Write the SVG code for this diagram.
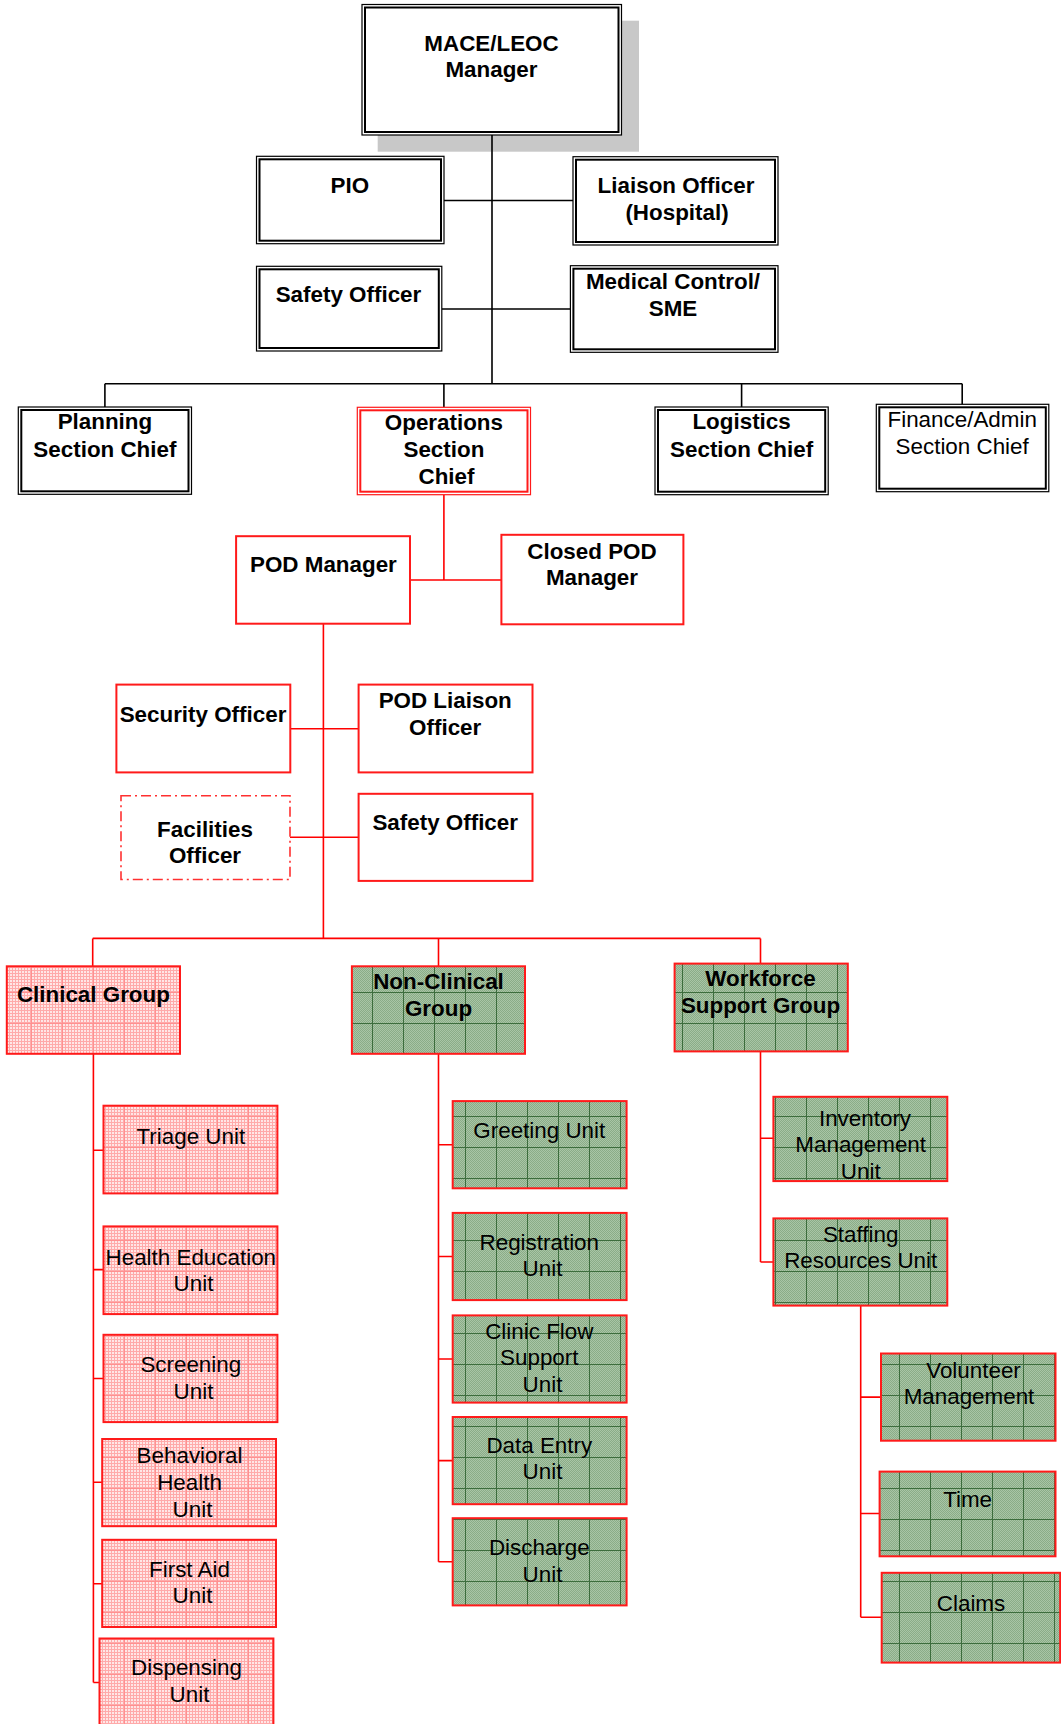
<svg xmlns="http://www.w3.org/2000/svg" width="1061" height="1724" viewBox="0 0 1061 1724">
<defs>
<style>
.t{font-family:"Liberation Sans",Arial,Helvetica,sans-serif;font-size:22.4px;text-anchor:middle;fill:#000}
.b{font-weight:bold}
.ko{fill:#fff;stroke:#000;stroke-width:1.2}
.ki{fill:none;stroke:#000;stroke-width:2}
.ro{fill:#fff;stroke:#ff1a1a;stroke-width:1.2}
.ri{fill:none;stroke:#ff1a1a;stroke-width:2}
.rb{fill:#fff;stroke:#ff1a1a;stroke-width:2}
.pk{fill:url(#pink);stroke:#ff1a1a;stroke-width:2}
.gr{fill:url(#green);stroke:#ff1a1a;stroke-width:2}
.dd{fill:#fff;stroke:#ff3030;stroke-width:1.6;stroke-dasharray:10 4 2 4}
.kc{fill:none;stroke:#000;stroke-width:1.6}
.rc{fill:none;stroke:#ff0000;stroke-width:1.6}
</style>
<pattern id="pinkFine" width="3" height="3" patternUnits="userSpaceOnUse">
<rect width="3" height="3" fill="#ffe6e6"/>
<rect width="3" height="1" fill="#ffaaaa"/>
<rect width="1" height="3" fill="#ffaaaa"/>
</pattern>
<pattern id="pink" width="31" height="31" patternUnits="userSpaceOnUse">
<rect width="31" height="31" fill="url(#pinkFine)"/>
<path d="M0 0.5H31M0.5 0V31" stroke="#ff9090" stroke-width="1"/>
</pattern>
<pattern id="greenFine" width="2" height="2" patternUnits="userSpaceOnUse">
<rect width="2" height="2" fill="#a9c5a6"/>
<rect width="1" height="1" fill="#8aac87"/>
<rect x="1" y="1" width="1" height="1" fill="#8aac87"/>
</pattern>
<pattern id="green" width="31" height="31" patternUnits="userSpaceOnUse">
<rect width="31" height="31" fill="url(#greenFine)"/>
<path d="M0 0.5H31M0.5 0V31" stroke="#3d6d3d" stroke-width="1"/>
</pattern>
</defs>
<rect width="1061" height="1724" fill="#fff"/>

<g id="mace-shadow">
<rect x="377.7" y="20.7" width="261.3" height="131" fill="#c8c8c8"/>
</g>

<g id="connectors">
<path class="kc" d="M492 135V383.7M444 200.5H573M441.8 309H570.4M104.9 383.7H962.2M104.9 383.7V407M443.9 383.7V407.3M741.6 383.7V407M962.2 383.7V404.3"/>
<path class="rc" d="M443.9 494.7V580M410 580H501.4M323.4 623.7V938.4M290.3 728.7H358.6M290 837.2H358.6M92.7 938.4H760.5M92.7 938.4V966.3M438.5 938.4V966.3M760.5 938.4V963.6"/>
<path class="rc" d="M93.4 1053.8V1682.5M93.4 1150.2H103.5M93.4 1269.6H103.5M93.4 1378.5H103.5M93.4 1482.2H102.2M93.4 1583.8H102.2M93.4 1682.5H99.5"/>
<path class="rc" d="M438.5 1053.8V1561.8M438.5 1144.7H452.7M438.5 1256.5H452.7M438.5 1359H452.7M438.5 1460.6H452.7M438.5 1561.8H452.7"/>
<path class="rc" d="M760.5 1051.4V1262M760.5 1138.3H773.4M760.5 1262H773.4M860.7 1305.6V1617.3M860.7 1397.1H881M860.7 1513.5H879.6M860.7 1617.3H881.7"/>
</g>

<g id="mace">
<rect class="ko" x="362" y="4.5" width="259.5" height="130.5"/>
<rect class="ki" x="365" y="7.5" width="253.5" height="124.5"/>
<text class="t b" x="491.5" y="50.5">MACE/LEOC</text>
<text class="t b" x="491.5" y="77">Manager</text>
</g>
<g id="pio">
<rect class="ko" x="256.5" y="156.3" width="187.5" height="87.4"/>
<rect class="ki" x="259.5" y="159.3" width="181.5" height="81.4"/>
<text class="t b" x="349.8" y="192.7">PIO</text>
</g>
<g id="liaison">
<rect class="ko" x="573" y="156.7" width="205" height="88.3"/>
<rect class="ki" x="576" y="159.7" width="199" height="82.3"/>
<text class="t b" x="676" y="193.3">Liaison Officer</text>
<text class="t b" x="677" y="220">(Hospital)</text>
</g>
<g id="safety">
<rect class="ko" x="256.5" y="266.3" width="185.3" height="84.7"/>
<rect class="ki" x="259.5" y="269.3" width="179.3" height="78.7"/>
<text class="t b" x="348.5" y="301.7">Safety Officer</text>
</g>
<g id="medical">
<rect class="ko" x="570.4" y="265.7" width="207.6" height="86.6"/>
<rect class="ki" x="573.4" y="268.7" width="201.6" height="80.6"/>
<text class="t b" x="673" y="288.7">Medical Control/</text>
<text class="t b" x="673" y="315.6">SME</text>
</g>
<g id="planning">
<rect class="ko" x="18.3" y="407" width="173.2" height="87.3"/>
<rect class="ki" x="21.3" y="410" width="167.2" height="81.3"/>
<text class="t b" x="104.9" y="429.3">Planning</text>
<text class="t b" x="104.9" y="457">Section Chief</text>
</g>
<g id="operations">
<rect class="ro" x="357.3" y="407.3" width="173.2" height="87.4"/>
<rect class="ri" x="360.3" y="410.3" width="167.2" height="81.4"/>
<text class="t b" x="443.9" y="430">Operations</text>
<text class="t b" x="443.9" y="457.3">Section</text>
<text class="t b" x="446.5" y="484.3">Chief</text>
</g>
<g id="logistics">
<rect class="ko" x="655" y="407" width="173.2" height="87.7"/>
<rect class="ki" x="658" y="410" width="167.2" height="81.7"/>
<text class="t b" x="741.6" y="429.3">Logistics</text>
<text class="t b" x="741.6" y="457">Section Chief</text>
</g>
<g id="finance">
<rect class="ko" x="876.3" y="404.3" width="172.5" height="87.4"/>
<rect class="ki" x="879.3" y="407.3" width="166.5" height="81.4"/>
<text class="t" x="962.2" y="427">Finance/Admin</text>
<text class="t" x="962.2" y="454">Section Chief</text>
</g>

<g id="pod-manager">
<rect class="rb" x="236.1" y="536.2" width="173.9" height="87.5"/>
<text class="t b" x="323.4" y="572.3">POD Manager</text>
</g>
<g id="closed-pod">
<rect class="rb" x="501.4" y="534.8" width="182" height="89.5"/>
<text class="t b" x="592" y="558.9">Closed POD</text>
<text class="t b" x="592" y="585.4">Manager</text>
</g>
<g id="security">
<rect class="rb" x="116.4" y="684.6" width="173.9" height="87.8"/>
<text class="t b" x="203" y="721.5">Security Officer</text>
</g>
<g id="pod-liaison">
<rect class="rb" x="358.6" y="684.6" width="173.9" height="87.8"/>
<text class="t b" x="445.2" y="707.7">POD Liaison</text>
<text class="t b" x="445.2" y="735.2">Officer</text>
</g>
<g id="facilities">
<rect class="dd" x="121" y="795.7" width="169" height="83.8"/>
<text class="t b" x="205" y="836.5">Facilities</text>
<text class="t b" x="205" y="862.7">Officer</text>
</g>
<g id="pod-safety">
<rect class="rb" x="358.6" y="793.8" width="173.9" height="87.1"/>
<text class="t b" x="445.2" y="830">Safety Officer</text>
</g>

<g id="clinical">
<rect class="pk" x="6.8" y="966.3" width="173.2" height="87.5"/>
<text class="t b" x="93.4" y="1002.2">Clinical Group</text>
</g>
<g id="non-clinical">
<rect class="gr" x="351.9" y="966.3" width="173.1" height="87.5"/>
<text class="t b" x="438.5" y="989">Non-Clinical</text>
<text class="t b" x="438.5" y="1015.5">Group</text>
</g>
<g id="workforce">
<rect class="gr" x="674.6" y="963.6" width="173.2" height="87.8"/>
<text class="t b" x="760.5" y="986.3">Workforce</text>
<text class="t b" x="760.5" y="1012.5">Support Group</text>
</g>

<g id="triage">
<rect class="pk" x="103.5" y="1105.7" width="173.9" height="87.7"/>
<text class="t" x="190.8" y="1143.8">Triage Unit</text>
</g>
<g id="health-education">
<rect class="pk" x="103.5" y="1226.4" width="173.9" height="87.7"/>
<text class="t" x="190.8" y="1264.5">Health Education</text>
<text class="t" x="193.5" y="1290.8">Unit</text>
</g>
<g id="screening">
<rect class="pk" x="103.5" y="1334.8" width="173.9" height="87.3"/>
<text class="t" x="190.8" y="1371.5">Screening</text>
<text class="t" x="193.5" y="1398.8">Unit</text>
</g>
<g id="behavioral">
<rect class="pk" x="102.2" y="1439" width="173.8" height="87.2"/>
<text class="t" x="189.5" y="1463.2">Behavioral</text>
<text class="t" x="189.5" y="1489.8">Health</text>
<text class="t" x="192.5" y="1516.5">Unit</text>
</g>
<g id="first-aid">
<rect class="pk" x="102.2" y="1539.8" width="173.8" height="87.2"/>
<text class="t" x="189.5" y="1576.6">First Aid</text>
<text class="t" x="192.5" y="1603.3">Unit</text>
</g>
<g id="dispensing">
<rect class="pk" x="99.5" y="1638.5" width="173.9" height="95"/>
<text class="t" x="186.5" y="1675.3">Dispensing</text>
<text class="t" x="189.5" y="1701.6">Unit</text>
</g>

<g id="greeting">
<rect class="gr" x="452.7" y="1101.1" width="173.9" height="87.2"/>
<text class="t" x="539.3" y="1137.5">Greeting Unit</text>
</g>
<g id="registration">
<rect class="gr" x="452.7" y="1212.9" width="173.9" height="87.2"/>
<text class="t" x="539.3" y="1249.7">Registration</text>
<text class="t" x="542.5" y="1276">Unit</text>
</g>
<g id="clinic-flow">
<rect class="gr" x="452.7" y="1315.4" width="173.9" height="87.2"/>
<text class="t" x="539.3" y="1338.7">Clinic Flow</text>
<text class="t" x="539.3" y="1364.9">Support</text>
<text class="t" x="542.5" y="1392.4">Unit</text>
</g>
<g id="data-entry">
<rect class="gr" x="452.7" y="1417" width="173.9" height="87.2"/>
<text class="t" x="539.3" y="1453">Data Entry</text>
<text class="t" x="542.5" y="1479.2">Unit</text>
</g>
<g id="discharge">
<rect class="gr" x="452.7" y="1518.2" width="173.9" height="87.2"/>
<text class="t" x="539.3" y="1554.6">Discharge</text>
<text class="t" x="542.5" y="1581.7">Unit</text>
</g>

<g id="inventory">
<rect class="gr" x="773.4" y="1096.8" width="173.9" height="84.3"/>
<text class="t" x="865" y="1125.6">Inventory</text>
<text class="t" x="860.7" y="1151.5">Management</text>
<text class="t" x="860.7" y="1178.6">Unit</text>
</g>
<g id="staffing">
<rect class="gr" x="773.4" y="1218.4" width="173.9" height="87.2"/>
<text class="t" x="860.7" y="1242">Staffing</text>
<text class="t" x="860.7" y="1268.4">Resources Unit</text>
</g>
<g id="volunteer">
<rect class="gr" x="881" y="1353.5" width="174.5" height="87.2"/>
<text class="t" x="973.5" y="1377.6">Volunteer</text>
<text class="t" x="969" y="1403.9">Management</text>
</g>
<g id="time">
<rect class="gr" x="879.6" y="1471.6" width="175.9" height="84.7"/>
<text class="t" x="967.6" y="1506.8">Time</text>
</g>
<g id="claims">
<rect class="gr" x="881.7" y="1572.8" width="178.5" height="89.8"/>
<text class="t" x="971" y="1610.5">Claims</text>
</g>
</svg>
